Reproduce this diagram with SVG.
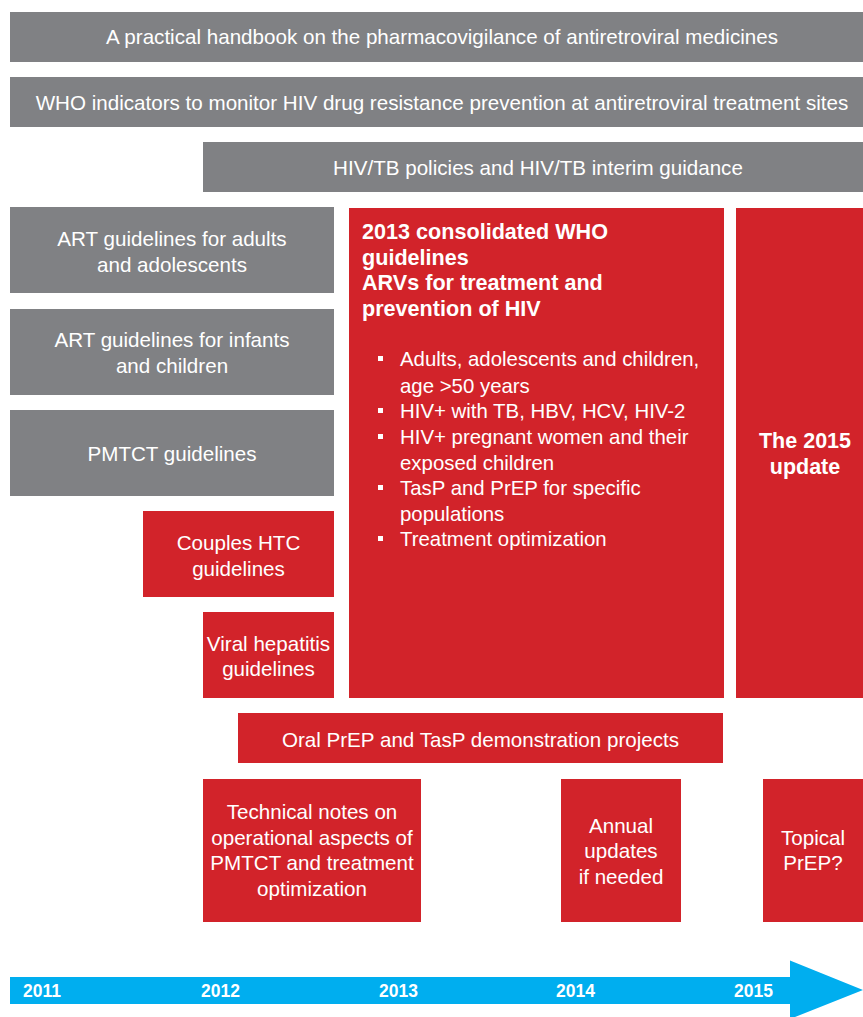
<svg xmlns="http://www.w3.org/2000/svg" width="863" height="1017" viewBox="0 0 863 1017">
<style>
.grey{fill:#808184}
.red{fill:#d2232a}
.t{font-family:"Liberation Sans",Arial,sans-serif;font-size:20.6px;fill:#fff;text-anchor:middle}
.tl{font-family:"Liberation Sans",Arial,sans-serif;font-size:20.4px;fill:#fff}
.b{font-family:"Liberation Sans",Arial,sans-serif;font-size:21.6px;font-weight:bold;fill:#fff}
.bc{font-family:"Liberation Sans",Arial,sans-serif;font-size:21.5px;font-weight:bold;fill:#fff;text-anchor:middle}
.yr{font-family:"Liberation Sans",Arial,sans-serif;font-size:17.5px;font-weight:bold;fill:#fff}
.bul{fill:#fff}
</style>
<rect width="863" height="1017" fill="#fff"/>
<g id="handbook">
<rect class="grey" x="10" y="12" width="853" height="50"/>
<text class="t" x="442" y="44">A practical handbook on the pharmacovigilance of antiretroviral medicines</text>
</g>
<g id="who-indicators">
<rect class="grey" x="10" y="77" width="853" height="50"/>
<text class="t" x="442" y="110">WHO indicators to monitor HIV drug resistance prevention at antiretroviral treatment sites</text>
</g>
<g id="hivtb">
<rect class="grey" x="203" y="142" width="660" height="50"/>
<text class="t" x="538" y="175">HIV/TB policies and HIV/TB interim guidance</text>
</g>
<g id="art-adults">
<rect class="grey" x="10" y="207" width="324" height="86"/>
<text class="t" x="172" y="246">ART guidelines for adults</text>
<text class="t" x="172" y="272">and adolescents</text>
</g>
<g id="art-infants">
<rect class="grey" x="10" y="309" width="324" height="86"/>
<text class="t" x="172" y="347">ART guidelines for infants</text>
<text class="t" x="172" y="373">and children</text>
</g>
<g id="pmtct">
<rect class="grey" x="10" y="410" width="324" height="86"/>
<text class="t" x="172" y="461">PMTCT guidelines</text>
</g>
<g id="couples-htc">
<rect class="red" x="143" y="511" width="191" height="86"/>
<text class="t" x="238.5" y="550">Couples HTC</text>
<text class="t" x="238.5" y="576">guidelines</text>
</g>
<g id="viral-hepatitis">
<rect class="red" x="203" y="612" width="131" height="86"/>
<text class="t" x="268.5" y="651">Viral hepatitis</text>
<text class="t" x="268.5" y="676">guidelines</text>
</g>
<g id="consolidated-2013">
<rect class="red" x="349" y="208" width="375" height="490"/>
<text class="b" x="362" y="239">2013 consolidated WHO</text>
<text class="b" x="362" y="265">guidelines</text>
<text class="b" x="362" y="290">ARVs for treatment and</text>
<text class="b" x="362" y="316">prevention of HIV</text>
<rect class="bul" x="378" y="356" width="5" height="5"/>
<text class="tl" x="400" y="366">Adults, adolescents and children,</text>
<text class="tl" x="400" y="393">age &gt;50 years</text>
<rect class="bul" x="378" y="408" width="5" height="5"/>
<text class="tl" x="400" y="418">HIV+ with TB, HBV, HCV, HIV-2</text>
<rect class="bul" x="378" y="434" width="5" height="5"/>
<text class="tl" x="400" y="444">HIV+ pregnant women and their</text>
<text class="tl" x="400" y="470">exposed children</text>
<rect class="bul" x="378" y="485" width="5" height="5"/>
<text class="tl" x="400" y="495">TasP and PrEP for specific</text>
<text class="tl" x="400" y="521">populations</text>
<rect class="bul" x="378" y="536" width="5" height="5"/>
<text class="tl" x="400" y="546">Treatment optimization</text>
</g>
<g id="update-2015">
<rect class="red" x="736" y="208" width="127" height="490"/>
<text class="bc" x="805" y="448">The 2015</text>
<text class="bc" x="805" y="474">update</text>
</g>
<g id="oral-prep">
<rect class="red" x="238" y="713" width="485" height="50"/>
<text class="t" x="480.5" y="747">Oral PrEP and TasP demonstration projects</text>
</g>
<g id="technical-notes">
<rect class="red" x="203" y="779" width="218" height="143"/>
<text class="t" x="312" y="819">Technical notes on</text>
<text class="t" x="312" y="845">operational aspects of</text>
<text class="t" x="312" y="870">PMTCT and treatment</text>
<text class="t" x="312" y="896">optimization</text>
</g>
<g id="annual-updates">
<rect class="red" x="561" y="779" width="120" height="143"/>
<text class="t" x="621" y="833">Annual</text>
<text class="t" x="621" y="858">updates</text>
<text class="t" x="621" y="884">if needed</text>
</g>
<g id="topical-prep">
<rect class="red" x="763" y="779" width="100" height="143"/>
<text class="t" x="813" y="845">Topical</text>
<text class="t" x="813" y="870">PrEP?</text>
</g>
<g id="connectors">
<path d="M10 977 H790 V960.5 L863 990 L790 1019 V1004 H10 Z" fill="#00aeef"/>
<text class="yr" x="23" y="997">2011</text>
<text class="yr" x="201" y="997">2012</text>
<text class="yr" x="379" y="997">2013</text>
<text class="yr" x="556" y="997">2014</text>
<text class="yr" x="734" y="997">2015</text>
</g>
</svg>
